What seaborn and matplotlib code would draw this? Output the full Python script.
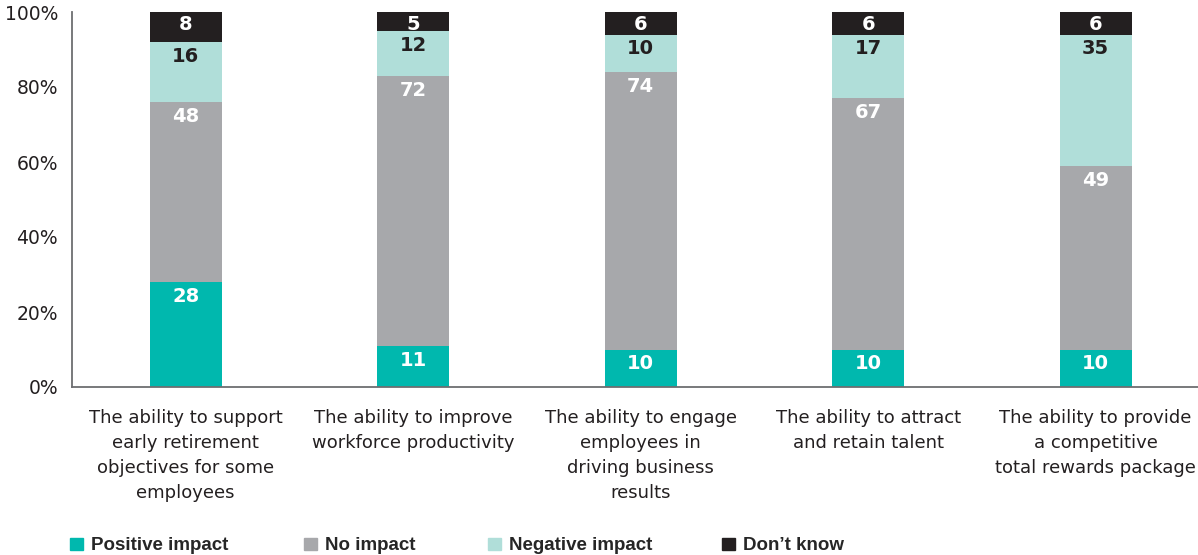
import matplotlib
matplotlib.use("Agg")
import matplotlib.pyplot as plt
import matplotlib.patches as mpatches
import numpy as np
import pandas as pd
import seaborn as sns

categories = [
    "The ability to support\nearly retirement\nobjectives for some\nemployees",
    "The ability to improve\nworkforce productivity",
    "The ability to engage\nemployees in\ndriving business\nresults",
    "The ability to attract\nand retain talent",
    "The ability to provide\na competitive\ntotal rewards package",
]
series_names = ["Positive impact", "No impact", "Negative impact", "Don\u2019t know"]
positive = [28, 11, 10, 10, 10]
no_impact = [48, 72, 74, 67, 49]
negative = [16, 12, 10, 17, 35]
dont_know = [8, 5, 6, 6, 6]
y_ticks = [0, 20, 40, 60, 80, 100]
y_tick_labels = ["0%", "20%", "40%", "60%", "80%", "100%"]

colors = ["#00b8ae", "#a7a8ab", "#b0ded9", "#231f20"]
label_colors = ["white", "white", "#231f20", "white"]

sns.set_theme(style="white")
plt.rcParams["font.family"] = ["DejaVu Sans"]

fig = plt.figure(figsize=(11.98, 5.55), dpi=100)
ax = fig.add_axes([72 / 1198, 168 / 555, 1 - 72 / 1198, (387 - 12) / 555])

layers = [positive, no_impact, negative, dont_know]
cum = np.cumsum(np.array(layers), axis=0)

# stacked bars: draw cumulative totals from the top layer down
for i in range(len(layers) - 1, -1, -1):
    df = pd.DataFrame({"cat": categories, "val": cum[i]})
    sns.barplot(data=df, x="cat", y="val", color=colors[i], width=0.316,
                saturation=1, ax=ax, linewidth=0)

# value labels near the top of each segment
for i, layer in enumerate(layers):
    for j, v in enumerate(layer):
        pad = -2.5 if i == 3 else -3.5
        ax.annotate(str(v), xy=(j, cum[i][j]), xytext=(0, pad),
                    textcoords="offset points", ha="center", va="top",
                    fontsize=14, fontweight="bold", color=label_colors[i])

ax.set_xlim(-0.5, 4.45)
ax.set_ylim(0, 100)
ax.set_yticks(y_ticks)
ax.set_yticklabels(y_tick_labels)
ax.set_xlabel("")
ax.set_ylabel("")
ax.tick_params(axis="y", length=0, pad=10, labelsize=13.5, labelcolor="#231f20")
ax.tick_params(axis="x", length=0, pad=16, labelsize=13, labelcolor="#231f20")
for lab in ax.get_xticklabels():
    lab.set_linespacing(1.5)
    lab.set_va("top")
sns.despine(ax=ax, top=True, right=True)
for s in ["left", "bottom"]:
    ax.spines[s].set_color("#6d6e71")
    ax.spines[s].set_linewidth(1.3)

# legend entries along the bottom
legend_x = [61, 295, 479, 713]
for name, c, lx in zip(series_names, colors, legend_x):
    h = mpatches.Patch(color=c, label=name)
    fig.legend(handles=[h], loc="center left",
               bbox_to_anchor=(lx / 1198, 1 - 546 / 555),
               frameon=False, handlelength=0.65, handleheight=0.65,
               handletextpad=0.45, borderpad=0,
               prop={"family": ["Liberation Sans"],
                     "weight": "bold", "size": 13.5})

fig.savefig("out.png", dpi=100)
